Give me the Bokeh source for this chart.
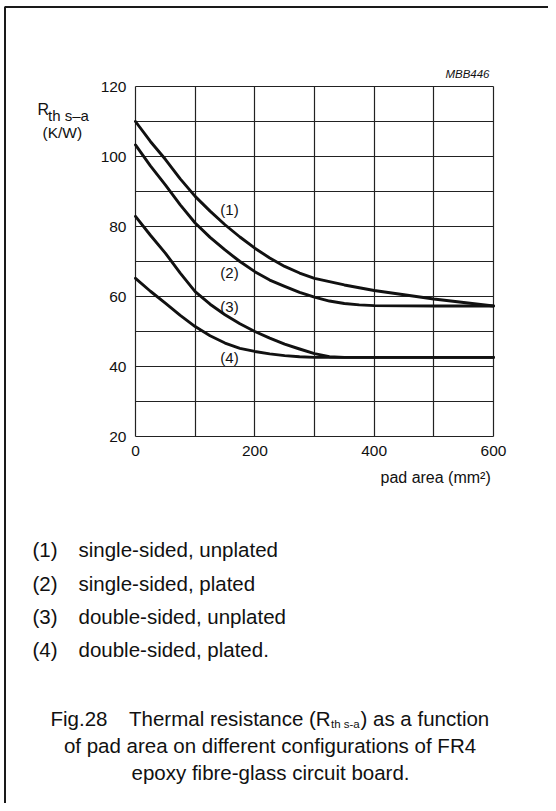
from bokeh.plotting import figure
from bokeh.models import Label, PolyAnnotation, FixedTicker, Range1d
from bokeh.embed import file_html
from bokeh.resources import INLINE

# ---------------- data ----------------
x1 = [0, 25, 50, 75, 100, 125, 150, 175, 200, 225, 250, 275, 300, 350, 400, 450, 500, 550, 600]
y1 = [110, 104.3, 99.2, 93.6, 88.6, 84.4, 80.5, 77.0, 73.8, 71.0, 68.6, 66.7, 65.2, 63.3, 61.7, 60.5, 59.3, 58.3, 57.3]

x2 = [0, 25, 50, 75, 100, 125, 150, 175, 200, 225, 250, 275, 300, 325, 350, 375, 400, 500, 600]
y2 = [103.3, 97.3, 91.9, 86.2, 81.0, 76.9, 73.3, 70.0, 67.1, 64.7, 62.9, 61.2, 59.8, 58.7, 58.0, 57.6, 57.4, 57.3, 57.3]

x3 = [0, 25, 50, 75, 100, 125, 150, 175, 200, 225, 250, 275, 300, 325, 350, 600]
y3 = [82.9, 77.5, 72.4, 66.7, 61.4, 57.8, 54.8, 52.2, 50.0, 48.1, 46.4, 45.0, 43.7, 42.8, 42.6, 42.6]

x4 = [0, 25, 50, 75, 100, 125, 150, 175, 200, 225, 250, 275, 300, 600]
y4 = [65.2, 61.5, 58.1, 54.6, 51.4, 48.8, 46.7, 45.2, 44.3, 43.6, 43.1, 42.8, 42.6, 42.6]

curve_labels = ["(1)", "(2)", "(3)", "(4)"]
curve_label_x = [157.5, 157.5, 157.5, 157.5]
curve_label_y = [84.9, 66.9, 57.2, 42.7]

x_tick_values = [0, 200, 400, 600]
x_grid_values = [0, 100, 200, 300, 400, 500, 600]
y_tick_values = [20, 40, 60, 80, 100, 120]
y_grid_values = [20, 30, 40, 50, 60, 70, 80, 90, 100, 110, 120]

legend_nums = ["(1)", "(2)", "(3)", "(4)"]
legend_texts = ["single-sided, unplated", "single-sided, plated",
                "double-sided, unplated", "double-sided, plated."]

FONT = "Liberation Sans"
INK = "#111111"
GRID = "#222222"

# ---------------- geometry (canvas pixels) ----------------
W, H = 548, 803
FR_L, FR_R, FR_T, FR_B = 135, 493, 86, 436   # chart area on the canvas
XMIN, XMAX, YMIN, YMAX = 0, 600, 20, 120


def px_x(px):
    return XMIN + (px - FR_L) / (FR_R - FR_L) * (XMAX - XMIN)


def px_y(py):
    return YMAX - (py - FR_T) / (FR_B - FR_T) * (YMAX - YMIN)


p = figure(width=W, height=H,
           x_range=Range1d(px_x(0), px_x(W)), y_range=Range1d(px_y(H), px_y(0)),
           output_backend="svg", toolbar_location=None,
           min_border_left=0, min_border_right=0, min_border_top=0, min_border_bottom=0)
p.background_fill_color = "white"
p.border_fill_color = "white"
p.outline_line_color = None

p.xaxis.ticker = FixedTicker(ticks=x_tick_values)
p.yaxis.ticker = FixedTicker(ticks=y_tick_values)
p.xgrid.ticker = FixedTicker(ticks=x_grid_values)
p.ygrid.ticker = FixedTicker(ticks=y_grid_values)

try:
    p.xgrid.cross_bounds = (YMIN, YMAX)
    p.ygrid.cross_bounds = (XMIN, XMAX)
    for g in (p.xgrid, p.ygrid):
        g.grid_line_color = GRID
        g.grid_line_width = 1.2
except AttributeError:
    for g in (p.xgrid, p.ygrid):
        g.grid_line_color = None
    p.segment(x0=x_grid_values, x1=x_grid_values, y0=[YMIN] * len(x_grid_values),
              y1=[YMAX] * len(x_grid_values), line_color=GRID, line_width=1.2)
    p.segment(x0=[XMIN] * len(y_grid_values), x1=[XMAX] * len(y_grid_values),
              y0=y_grid_values, y1=y_grid_values, line_color=GRID, line_width=1.2)

p.xaxis.fixed_location = YMIN
p.yaxis.fixed_location = XMIN
for ax in (p.xaxis, p.yaxis):
    ax.axis_line_color = None
    ax.major_tick_line_color = None
    ax.minor_tick_line_color = None
    ax.major_tick_out = 0
    ax.major_tick_in = 0
    ax.major_label_text_font = FONT
    ax.major_label_text_font_size = "15.5px"
    ax.major_label_text_color = INK
p.yaxis.major_label_standoff = 9
p.xaxis.major_label_standoff = 9

for xs, ys in ((x1, y1), (x2, y2), (x3, y3), (x4, y4)):
    p.line(xs, ys, line_color=INK, line_width=2.9, line_join="round", line_cap="round")

for t, lx, ly in zip(curve_labels, curve_label_x, curve_label_y):
    p.add_layout(Label(x=lx, y=ly, text=t, text_font=FONT, text_font_size="15px",
                       text_color=INK, text_align="center", text_baseline="middle"))


def add_text(cx, cy, text, size, align="left", style="normal"):
    p.add_layout(Label(x=px_x(cx), y=px_y(cy), text=text,
                       text_font=FONT, text_font_size=size, text_font_style=style,
                       text_color=INK, text_align=align, text_baseline="middle"))


# axis titles and ID
add_text(37, 109, "R", "16px")
add_text(47.5, 115, "th s\u2013a", "15px")
add_text(42, 132, "(K/W)", "15.5px")
add_text(489, 73, "MBB446", "11.5px", align="right", style="italic")
add_text(380, 477, "pad area (mm\u00b2)", "16px")

# legend
leg_y = [549.3, 582.7, 616, 649.3]
for n, t, ly in zip(legend_nums, legend_texts, leg_y):
    add_text(32, ly, n, "20.5px")
    add_text(78, ly, t, "20.5px")

# caption
add_text(50, 718, "Fig.28", "20.5px")
add_text(128.5, 718, "Thermal resistance (R", "20.5px")
add_text(330.5, 723, "th s-a", "11.5px")
add_text(360, 718, ") as a function", "20.5px")
add_text(269.5, 745, "of pad area on different configurations of FR4", "20.5px", align="center")
add_text(270, 772, "epoxy fibre-glass circuit board.", "20.5px", align="center")

# page border (left and top edges only; the rest runs off the page)
L, T = 4.5, 6.5
p.add_layout(PolyAnnotation(xs=[px_x(L), px_x(L), px_x(900), px_x(900)],
                            ys=[px_y(1200), px_y(T), px_y(T), px_y(1200)],
                            fill_alpha=0, line_alpha=1.0, line_color="#1a1a1a", line_width=2))

open("out.html", "w").write(file_html(p, INLINE))
